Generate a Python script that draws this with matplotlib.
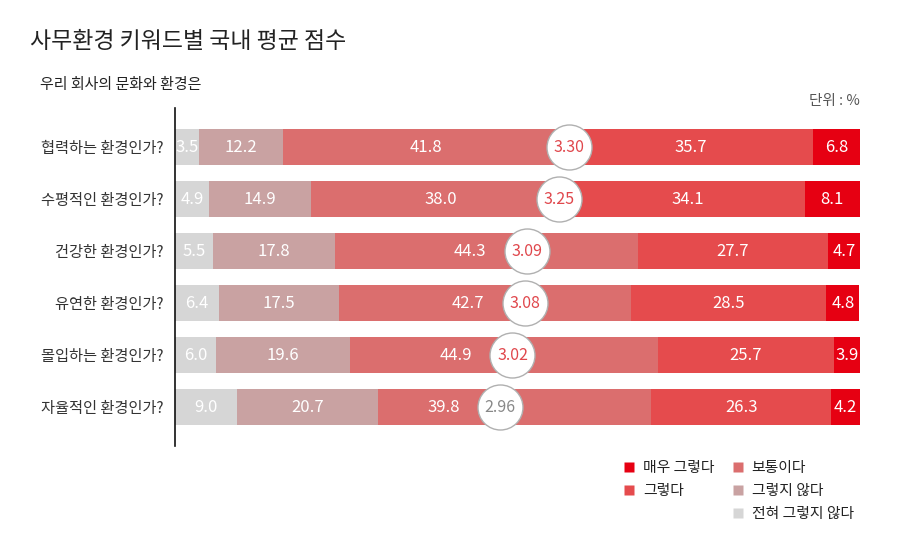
import matplotlib
matplotlib.use("Agg")
import matplotlib.pyplot as plt
from matplotlib.lines import Line2D
import numpy as np

plt.rcParams['font.family'] = ['Noto Sans CJK KR', 'DejaVu Sans']

title = "사무환경 키워드별 국내 평균 점수"
subtitle = "우리 회사의 문화와 환경은"
unit = "단위 : %"
questions = ["협력하는 환경인가?", "수평적인 환경인가?", "건강한 환경인가?",
             "유연한 환경인가?", "몰입하는 환경인가?", "자율적인 환경인가?"]
scores = [3.30, 3.25, 3.09, 3.08, 3.02, 2.96]
# segments from left to right
series_names = ["전혀 그렇지 않다", "그렇지 않다", "보통이다", "그렇다", "매우 그렇다"]
strongly_disagree = [3.5, 4.9, 5.5, 6.4, 6.0, 9.0]
disagree = [12.2, 14.9, 17.8, 17.5, 19.6, 20.7]
neutral = [41.8, 38.0, 44.3, 42.7, 44.9, 39.8]
agree = [35.7, 34.1, 27.7, 28.5, 25.7, 26.3]
strongly_agree = [6.8, 8.1, 4.7, 4.8, 3.9, 4.2]
series = [strongly_disagree, disagree, neutral, agree, strongly_agree]
colors = ["#D6D6D6", "#C9A2A2", "#DB6E6E", "#E54B4D", "#E60012"]

fig = plt.figure(figsize=(9, 5.5), dpi=100)
fig.patch.set_facecolor("white")
ax = fig.add_axes([175/900, 1-446/550, 685/900, 338/550])

y = np.arange(len(questions))
left = np.zeros(len(questions))
bar_h = 0.71
score_lo, score_hi = 1.35, 4.74
gap_pct = 57/685*100
for k, (vals, c) in enumerate(zip(series, colors)):
    vals = np.array(vals)
    ax.barh(y, vals, left=left, height=bar_h, color=c, edgecolor='none', zorder=2)
    for i, v in enumerate(vals):
        cx = left[i] + v/2
        if k == 2:
            circ = (scores[i]-score_lo)/(score_hi-score_lo)*100
            cx = min(cx, circ - gap_pct)
        ax.text(cx, y[i], f"{v:.1f}", ha='center', va='center', color='white',
                fontsize=12, fontweight='medium', zorder=3)
    left += vals

ax.set_xlim(0, 100)
ax.set_ylim(len(questions)-0.25, -0.75)
ax.set_yticks(y)
ax.set_yticklabels(questions, fontsize=11, color="#333333")
ax.tick_params(axis='y', length=0, pad=8.5)
ax.set_xticks([])
for s in ['top', 'right', 'bottom']:
    ax.spines[s].set_visible(False)
ax.spines['left'].set_linewidth(1.2)
ax.spines['left'].set_color('#111111')
ax.spines['left'].set_zorder(5)

ax2 = ax.twiny()
ax2.set_xlim(score_lo, score_hi)
ax2.set_ylim(ax.get_ylim())
ax2.axis('off')
ax2.scatter(scores, y, s=1050, facecolor='white', edgecolor='#B0B0B0', linewidth=1.0, zorder=4)
for i, sc in enumerate(scores):
    col = "#E0474C" if sc >= 3 else "#888888"
    ax2.text(sc, y[i], f"{sc:.2f}", ha='center', va='center', color=col,
             fontsize=11.5, zorder=5)

fig.text(30/900, 1-42/550, title, fontsize=16.5, fontweight='medium', color="#222222",
         va='center', ha='left')
fig.text(40/900, 1-85/550, subtitle, fontsize=10.8, color="#222222", va='center', ha='left')
fig.text(860/900, 1-101/550, unit, fontsize=10.5, color="#555555", va='center', ha='right')

legend_order = ["매우 그렇다", "그렇다", None, "보통이다", "그렇지 않다", "전혀 그렇지 않다"]
handles, labels = [], []
for name in legend_order:
    if name is None:
        handles.append(Line2D([], [], linestyle='', marker=None))
        labels.append("")
    else:
        c = colors[series_names.index(name)]
        handles.append(Line2D([], [], linestyle='', marker='s', markersize=7.2,
                              markerfacecolor=c, markeredgecolor='none'))
        labels.append(name)
fig.legend(handles, labels, ncol=2, loc='upper left', bbox_to_anchor=(623/900, 1-461/550),
           frameon=False, fontsize=10.7, handlelength=0.8, handletextpad=0.55,
           columnspacing=1.15, labelspacing=0.62, borderpad=0, borderaxespad=0,
           labelcolor="#222222")

fig.savefig("out.png", dpi=100, facecolor='white')
